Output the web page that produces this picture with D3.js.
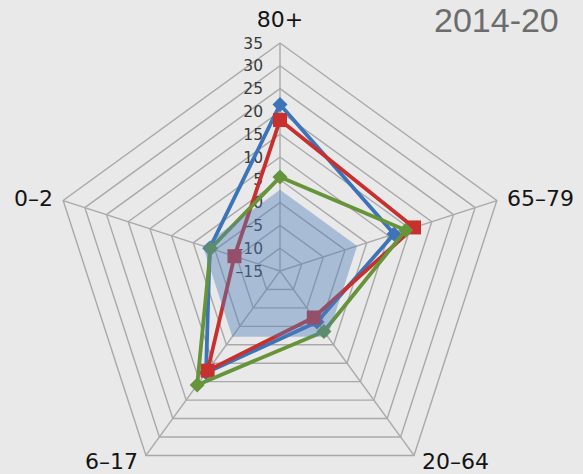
<!DOCTYPE html>
<html>
<head>
<meta charset="utf-8">
<script src="https://cdn.jsdelivr.net/npm/d3@7"></script>
<style>
  html, body { margin: 0; padding: 0; background: #e9e9e9; overflow: hidden; }
  svg { display: block; }
</style>
</head>
<body>
<svg id="chart" width="583" height="474"></svg>
<script>
// ---- data ----
const categories = ["80+", "65–79", "20–64", "6–17", "0–2"];
const tickValues = [-15, -10, -5, 0, 5, 10, 15, 20, 25, 30, 35];
const tickLabels = ["–15", "–10", "–5", "0", "5", "10", "15", "20", "25", "30", "35"];
const seriesBlue  = [21.5, 11.3, -1.2, 12.6, 1.2];
const seriesRed   = [18.1, 15.9, -2.4, 12.0, -4.5];
const seriesGreen = [5.6, 14.0, 1.4, 15.9, 1.0];
const seriesShade = [2.8, 2.8, 2.8, 2.8, 2.8];
const titleText = "2014-20";

// ---- layout ----
const svg = d3.select("#chart");
const W = 583, H = 474;
svg.append("rect").attr("width", W).attr("height", H).attr("fill", "#e9e9e9");

const cx = 280, cy = 271, R = 228;
const r = d3.scaleLinear().domain([-15, 35]).range([0, R]);
const angle = d3.scaleLinear().domain([0, categories.length]).range([0, 2 * Math.PI]);

function pt(i, v) {
  const a = angle(i);
  const rr = r(v);
  return [cx + rr * Math.sin(a), cy - rr * Math.cos(a)];
}
const line = d3.line().curve(d3.curveLinearClosed);

const g = svg.append("g");

// grid rings
tickValues.slice(1).forEach(t => {
  g.append("path")
    .attr("d", line(categories.map((c, i) => pt(i, t))))
    .attr("fill", "none")
    .attr("stroke", "#a9a9a9")
    .attr("stroke-width", 1.4);
});
// spokes
categories.forEach((c, i) => {
  const p = pt(i, 35);
  g.append("line")
    .attr("x1", cx).attr("y1", cy)
    .attr("x2", p[0]).attr("y2", p[1])
    .attr("stroke", "#a9a9a9")
    .attr("stroke-width", 1.4);
});

// tick labels
g.selectAll(".tick").data(tickValues).enter().append("text")
  .attr("x", cx - 17)
  .attr("y", d => cy - r(d))
  .attr("dy", "0.36em")
  .attr("text-anchor", "end")
  .attr("font-family", "DejaVu Sans, sans-serif")
  .attr("font-size", 15.5)
  .attr("fill", "#3a3a3a")
  .text((d, i) => tickLabels[i]);

// category labels
const labelPos = [
  { x: 280, y: 27, anchor: "middle" },
  { x: 507, y: 206, anchor: "start" },
  { x: 422, y: 469, anchor: "start" },
  { x: 138, y: 469, anchor: "end" },
  { x: 53, y: 206, anchor: "end" }
];
categories.forEach((c, i) => {
  g.append("text")
    .attr("x", labelPos[i].x).attr("y", labelPos[i].y)
    .attr("text-anchor", labelPos[i].anchor)
    .attr("font-family", "DejaVu Sans, sans-serif")
    .attr("font-size", 22)
    .attr("fill", "#141414")
    .text(c);
});

// series
const series = [
  { values: seriesBlue, color: "#3d73b9", marker: "diamond" },
  { values: seriesRed, color: "#c8302e", marker: "square" },
  { values: seriesGreen, color: "#66943a", marker: "diamond" }
];
series.forEach(s => {
  const pts = s.values.map((v, i) => pt(i, v));
  g.append("path")
    .attr("d", line(pts))
    .attr("fill", "none")
    .attr("stroke", s.color)
    .attr("stroke-width", 3.8)
    .attr("stroke-linejoin", "round");
  pts.forEach(p => {
    if (s.marker === "diamond") {
      const h = 7.5;
      g.append("path")
        .attr("d", `M${p[0]},${p[1]-h}L${p[0]+h},${p[1]}L${p[0]},${p[1]+h}L${p[0]-h},${p[1]}Z`)
        .attr("fill", s.color);
    } else {
      const h = 7;
      g.append("rect")
        .attr("x", p[0] - h).attr("y", p[1] - h)
        .attr("width", 2 * h).attr("height", 2 * h)
        .attr("fill", s.color);
    }
  });
});

// shaded area series (drawn on top, translucent)
g.append("path")
  .attr("d", line(seriesShade.map((v, i) => pt(i, v))))
  .attr("fill", "#4f7fbd")
  .attr("fill-opacity", 0.42)
  .attr("stroke", "none");

// title (cropped in the reference; kept fully inside the page here)
svg.append("text")
  .attr("x", 434).attr("y", 32)
  .attr("font-family", "Liberation Sans, sans-serif")
  .attr("font-size", 34)
  .attr("fill", "#6c6c6c")
  .text(titleText);
</script>
</body>
</html>
